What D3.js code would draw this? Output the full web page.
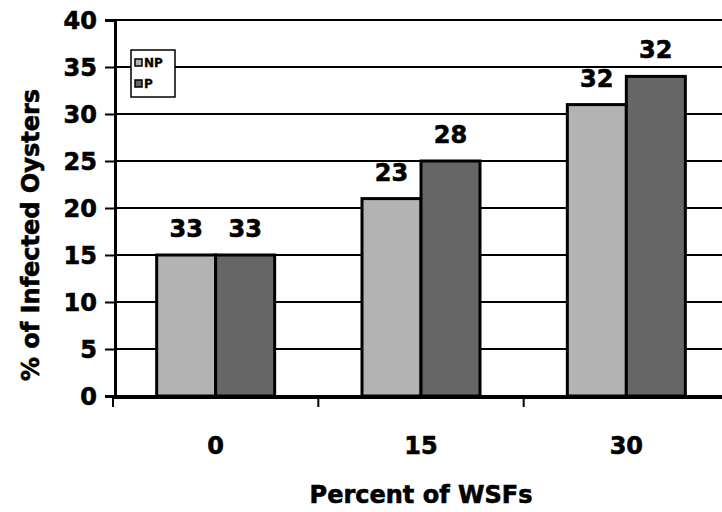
<!DOCTYPE html>
<html>
<head>
<meta charset="utf-8">
<script src="https://cdn.jsdelivr.net/npm/d3@7"></script>
<style>
  html, body { margin: 0; padding: 0; background: #fff; }
  svg { display: block; }
  text { font-family: "DejaVu Sans", "Liberation Sans", Arial, sans-serif; font-weight: bold; fill: #000; stroke: #000; stroke-width: 0.6px; }
</style>
</head>
<body>
<svg id="chart" width="722" height="512"></svg>
<script>
// WSF exposure levels (percent) and the two oyster groups
const categories = ["0", "15", "30"];
const series = ["NP", "P"];
// % of infected oysters per group
const npValues = [15, 21, 31];
const pValues = [15, 25, 34];
// numbers printed above each bar
const npLabels = ["33", "23", "32"];
const pLabels = ["33", "28", "32"];
const yTicks = [0, 5, 10, 15, 20, 25, 30, 35, 40];

const colors = { NP: "#b3b3b3", P: "#666666" };

const svg = d3.select("#chart");
const W = 722;

const y = d3.scaleLinear().domain([0, 40]).range([396, 20]);
const x0 = d3.scaleBand().domain(categories).range([113, 729]).padding(0);
const barW = 59;
const x1 = d3.scaleBand().domain(series)
  .range([(x0.bandwidth() - 2 * barW) / 2, (x0.bandwidth() + 2 * barW) / 2]).padding(0);

const rows = categories.map((c, i) => ({
  cat: c,
  bars: [
    { key: "NP", value: npValues[i], label: npLabels[i] },
    { key: "P", value: pValues[i], label: pLabels[i] }
  ]
}));

// horizontal gridlines (the 40 line doubles as the top border)
svg.append("g")
  .selectAll("line")
  .data(yTicks)
  .join("line")
  .attr("x1", 115).attr("x2", W)
  .attr("y1", d => y(d)).attr("y2", d => y(d))
  .attr("stroke", "#000").attr("stroke-width", 2);

// bars
const groups = svg.append("g")
  .selectAll("g")
  .data(rows)
  .join("g")
  .attr("transform", d => `translate(${x0(d.cat)},0)`);

groups.selectAll("rect")
  .data(d => d.bars)
  .join("rect")
  .attr("x", d => x1(d.key))
  .attr("width", x1.bandwidth())
  .attr("y", d => y(d.value))
  .attr("height", d => y(0) - y(d.value))
  .attr("fill", d => colors[d.key])
  .attr("stroke", "#000")
  .attr("stroke-width", 3);

groups.selectAll("text")
  .data(d => d.bars)
  .join("text")
  .attr("x", d => x1(d.key) + x1.bandwidth() / 2)
  .attr("y", d => y(d.value) - 18)
  .attr("text-anchor", "middle")
  .attr("font-size", 24)
  .text(d => d.label);

// y axis
const yAxis = svg.append("g")
  .attr("transform", "translate(115,0)")
  .call(d3.axisLeft(y).tickValues(yTicks).tickSize(10).tickPadding(8).tickFormat(d3.format("d")));
yAxis.select(".domain").attr("stroke", "#000").attr("stroke-width", 3);
yAxis.selectAll(".tick line").attr("stroke", "#000").attr("stroke-width", 2);
yAxis.selectAll(".tick text")
  .attr("font-size", 24)
  .attr("font-family", null)
  .attr("dy", "0.36em");

// x axis: labels centred on groups, ticks at group boundaries
const xAxis = svg.append("g")
  .attr("transform", "translate(0,397)")
  .call(d3.axisBottom(x0).tickSize(0).tickPadding(40));
xAxis.select(".domain").attr("stroke", "#000").attr("stroke-width", 3);
xAxis.selectAll(".tick text").attr("font-size", 24).attr("font-family", null);

const bounds = categories.map(c => x0(c)).concat([x0.range()[1]]);
svg.append("g")
  .selectAll("line")
  .data(bounds)
  .join("line")
  .attr("x1", d => d).attr("x2", d => d)
  .attr("y1", 396).attr("y2", 407)
  .attr("stroke", "#000").attr("stroke-width", 2);

// axis titles
svg.append("text")
  .attr("transform", "translate(39,235) rotate(-90)")
  .attr("text-anchor", "middle")
  .attr("font-size", 24)
  .text("% of Infected Oysters");

svg.append("text")
  .attr("x", 421).attr("y", 503)
  .attr("text-anchor", "middle")
  .attr("font-size", 24)
  .text("Percent of WSFs");

// legend
const legend = svg.append("g").attr("transform", "translate(131,50)");
legend.append("rect")
  .attr("width", 44).attr("height", 47)
  .attr("fill", "#fff").attr("stroke", "#000").attr("stroke-width", 1.5);
series.forEach((s, i) => {
  const g = legend.append("g").attr("transform", `translate(4,${9 + i * 21})`);
  g.append("rect")
    .attr("width", 7).attr("height", 7)
    .attr("fill", colors[s]).attr("stroke", "#000").attr("stroke-width", 1.5);
  g.append("text")
    .attr("x", 9).attr("y", 8)
    .attr("font-size", 12)
    .style("stroke-width", "0.3px")
    .text(s);
});
</script>
</body>
</html>
